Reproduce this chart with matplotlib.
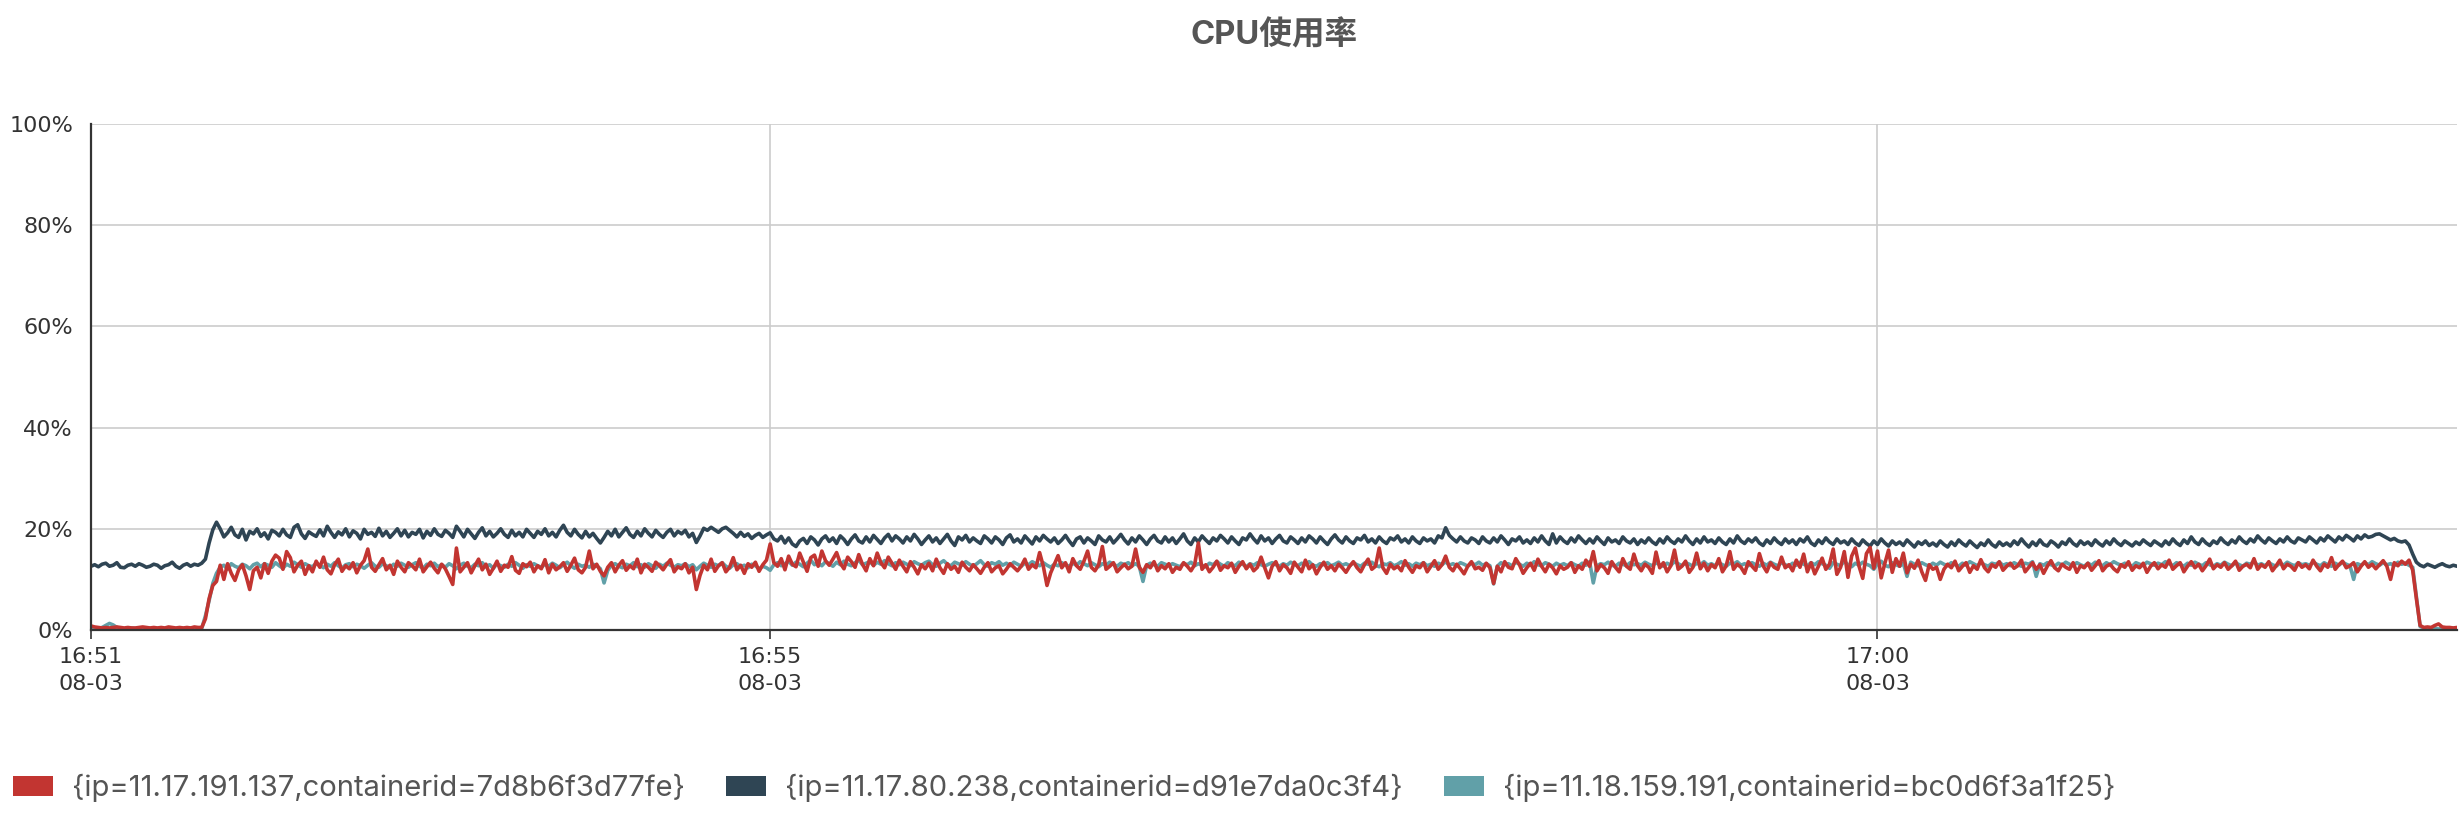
import matplotlib
matplotlib.use("Agg")
import matplotlib.pyplot as plt
from matplotlib.patches import Patch
import numpy as np
import pandas as pd

# ---------------- data ----------------
title = "CPU使用率"
start_time = "2023-08-03 16:51:56"
end_time = "2023-08-03 17:02:37"
series_names = [
    "{ip=11.17.191.137,containerid=7d8b6f3d77fe}",
    "{ip=11.17.80.238,containerid=d91e7da0c3f4}",
    "{ip=11.18.159.191,containerid=bc0d6f3a1f25}",
]
series_colors = ["#c23531", "#2f4554", "#61a0a8"]
x_ticks = ["2023-08-03 16:51:56", "2023-08-03 16:55:00", "2023-08-03 17:00:00"]
x_tick_labels = ["16:51\n08-03", "16:55\n08-03", "17:00\n08-03"]
y_ticks = [0, 20, 40, 60, 80, 100]
y_tick_labels = ["0%", "20%", "40%", "60%", "80%", "100%"]

# CPU usage in tenths of a percent, one sample per second
cpu_red_x10 = [
    8, 6, 5, 4, 5, 4, 5, 6, 5, 4, 5, 4, 4, 5, 6, 5, 4, 5, 4, 5,
    4, 6, 5, 4, 5, 4, 5, 4, 6, 5, 5, 22, 62, 88, 96, 128, 100, 131, 112, 98,
    119, 129, 107, 80, 117, 124, 103, 131, 112, 136, 148, 142, 120, 155, 143, 115, 128, 136, 110, 127,
    115, 136, 124, 144, 119, 111, 129, 140, 116, 127, 121, 133, 113, 128, 137, 160, 124, 116, 129, 141,
    119, 128, 110, 136, 124, 115, 133, 127, 119, 140, 115, 125, 134, 122, 113, 130, 121, 106, 90, 162,
    115, 124, 133, 113, 127, 140, 119, 130, 110, 122, 136, 116, 128, 124, 145, 118, 112, 131, 125, 134,
    115, 127, 121, 139, 113, 130, 119, 125, 133, 116, 128, 142, 119, 113, 124, 156, 121, 130, 116, 107,
    124, 133, 115, 128, 137, 118, 127, 121, 140, 113, 130, 124, 116, 134, 127, 119, 130, 139, 115, 125,
    121, 131, 113, 124, 80, 108, 128, 119, 140, 116, 127, 133, 115, 124, 143, 119, 128, 112, 131, 124,
    134, 116, 129, 138, 170, 133, 126, 141, 119, 146, 130, 125, 152, 134, 116, 143, 148, 126, 156, 137,
    128, 140, 153, 132, 121, 144, 135, 124, 149, 130, 117, 141, 127, 152, 133, 123, 144, 132, 120, 138,
    126, 115, 135, 124, 111, 129, 121, 132, 117, 140, 123, 112, 131, 120, 126, 114, 134, 124, 117, 129,
    121, 112, 124, 133, 115, 123, 127, 111, 120, 131, 124, 117, 126, 140, 120, 129, 123, 153, 126, 88,
    113, 130, 147, 123, 133, 115, 141, 127, 120, 136, 156, 124, 117, 129, 165, 120, 126, 133, 115, 123,
    130, 121, 126, 160, 124, 114, 129, 123, 135, 117, 127, 121, 131, 114, 124, 120, 133, 126, 117, 129,
    172, 120, 129, 115, 124, 136, 118, 127, 123, 132, 114, 126, 135, 121, 130, 117, 124, 144, 123, 103,
    126, 135, 117, 129, 123, 112, 134, 124, 115, 138, 121, 129, 111, 124, 134, 120, 127, 117, 130, 123,
    114, 126, 135, 123, 115, 129, 140, 120, 126, 162, 123, 112, 130, 121, 126, 117, 137, 124, 114, 127,
    123, 133, 115, 126, 137, 120, 129, 146, 124, 117, 130, 121, 111, 126, 135, 121, 124, 118, 132, 123,
    92, 126, 115, 135, 124, 121, 141, 129, 112, 123, 132, 118, 140, 126, 115, 130, 123, 111, 127, 120,
    124, 133, 114, 127, 120, 138, 126, 155, 117, 129, 123, 112, 135, 124, 115, 141, 126, 120, 150, 127,
    117, 130, 124, 112, 154, 123, 133, 115, 127, 158, 120, 126, 136, 114, 124, 152, 121, 132, 117, 129,
    123, 141, 115, 127, 155, 120, 130, 124, 112, 135, 126, 118, 151, 127, 115, 133, 124, 120, 144, 123,
    129, 117, 138, 124, 150, 115, 133, 111, 126, 142, 120, 130, 160, 110, 124, 155, 104, 146, 162, 126,
    102, 151, 163, 122, 156, 103, 132, 158, 114, 141, 126, 152, 113, 130, 122, 138, 115, 98, 129, 120,
    124, 100, 120, 130, 123, 136, 117, 126, 133, 114, 127, 120, 139, 123, 115, 129, 124, 135, 118, 126,
    132, 122, 127, 138, 115, 124, 133, 120, 129, 112, 126, 137, 123, 117, 130, 124, 120, 133, 114, 127,
    123, 132, 118, 127, 137, 117, 126, 130, 121, 115, 129, 124, 135, 118, 127, 123, 132, 114, 126, 133,
    121, 129, 124, 138, 120, 127, 133, 115, 126, 135, 123, 130, 117, 127, 140, 121, 129, 124, 133, 120,
    127, 136, 118, 126, 130, 123, 141, 120, 129, 124, 135, 117, 127, 138, 121, 130, 126, 118, 133, 124,
    129, 121, 138, 126, 117, 130, 124, 143, 120, 129, 136, 123, 127, 133, 115, 126, 135, 124, 130, 121,
    129, 137, 126, 100, 133, 127, 136, 130, 138, 118, 62, 9, 5, 6, 5, 9, 12, 6, 5, 5,
    4, 5,
]

cpu_dark_x10 = [
    126, 129, 125, 130, 132, 126, 128, 133, 124, 123, 128, 130, 126, 131, 128, 124, 126, 130, 128, 122,
    127, 129, 134, 126, 122, 128, 131, 126, 130, 128, 132, 140, 172, 198, 213, 200, 184, 192, 203, 188,
    183, 199, 178, 195, 190, 200, 185, 192, 180, 197, 193, 186, 199, 188, 183, 203, 208, 190, 181, 194,
    189, 185, 198, 186, 205, 193, 183, 194, 188, 200, 184, 196, 191, 180, 199, 189, 193, 185, 201, 186,
    195, 183, 191, 200, 186, 197, 184, 193, 189, 199, 182, 195, 187, 200, 189, 185, 197, 191, 183, 205,
    195, 184, 199, 190, 181, 193, 202, 186, 195, 184, 191, 200, 189, 183, 197, 186, 193, 184, 199, 191,
    183, 195, 189, 200, 186, 193, 184, 197, 207, 193, 186, 199, 189, 182, 195, 184, 191, 181, 172, 183,
    195, 186, 199, 184, 193, 202, 189, 183, 195, 186, 200, 191, 184, 197, 189, 183, 193, 199, 186, 195,
    190, 197, 184, 191, 173, 186, 201, 197, 203, 198, 193, 200, 203, 197, 191, 184, 193, 185, 190, 181,
    187, 191, 183, 188, 192, 180, 176, 185, 172, 182, 170, 165, 176, 181, 171, 184, 178, 168, 180, 186,
    175, 182, 171, 186, 179, 169, 180, 188, 176, 172, 184, 174, 187, 179, 171, 182, 189, 176, 186, 180,
    172, 184, 176, 189, 180, 169, 178, 186, 174, 182, 171, 180, 189, 176, 167, 184, 178, 187, 174, 182,
    176, 171, 186, 180, 172, 184, 178, 169, 182, 188, 174, 180, 172, 186, 178, 170, 184, 176, 187, 180,
    174, 182, 171, 178, 187, 176, 167, 180, 184, 172, 182, 176, 169, 186, 178, 174, 184, 172, 180, 189,
    178, 170, 182, 174, 186, 178, 169, 180, 187, 176, 172, 184, 174, 182, 171, 180, 190, 176, 169, 182,
    174, 186, 178, 171, 182, 176, 187, 180, 172, 184, 176, 169, 182, 178, 190, 180, 172, 186, 176, 182,
    171, 180, 187, 176, 172, 184, 178, 171, 182, 174, 186, 180, 172, 184, 176, 169, 180, 188, 178, 172,
    184, 176, 171, 182, 178, 187, 174, 180, 172, 184, 176, 171, 182, 178, 186, 174, 180, 172, 184, 176,
    171, 182, 176, 180, 172, 186, 182, 202, 187, 180, 174, 184, 176, 172, 182, 178, 171, 184, 176, 172,
    182, 174, 186, 178, 169, 180, 176, 184, 172, 178, 171, 182, 174, 186, 176, 169, 190, 172, 184, 176,
    171, 182, 174, 186, 178, 171, 180, 172, 184, 176, 169, 182, 174, 178, 171, 184, 176, 172, 180, 169,
    178, 172, 182, 174, 169, 180, 172, 184, 176, 171, 180, 174, 186, 176, 169, 180, 172, 184, 174, 178,
    171, 182, 174, 169, 180, 172, 186, 176, 171, 180, 174, 182, 172, 167, 178, 171, 182, 174, 169, 180,
    172, 178, 169, 180, 174, 184, 172, 167, 178, 171, 182, 174, 169, 180, 172, 176, 169, 180, 172, 167,
    178, 171, 166, 176, 169, 180, 172, 166, 176, 169, 174, 167, 178, 171, 164, 174, 169, 176, 167, 172,
    166, 176, 169, 164, 174, 167, 178, 171, 166, 176, 169, 163, 172, 167, 178, 169, 164, 174, 167, 172,
    166, 176, 169, 180, 171, 164, 174, 167, 178, 169, 166, 176, 171, 164, 174, 169, 180, 171, 166, 176,
    169, 174, 167, 178, 171, 166, 176, 169, 180, 172, 167, 176, 171, 166, 174, 169, 178, 172, 167, 176,
    171, 166, 176, 169, 180, 172, 167, 178, 171, 184, 174, 169, 180, 172, 167, 176, 171, 182, 174, 169,
    178, 172, 184, 176, 171, 180, 174, 186, 178, 172, 182, 176, 171, 180, 174, 184, 176, 172, 182, 178,
    174, 184, 178, 172, 182, 176, 186, 180, 174, 184, 178, 187, 182, 176, 186, 180, 188, 183, 185, 189,
    190, 186, 182, 178, 181, 176, 174, 176, 168, 150, 134, 128, 125, 130, 127, 124, 128, 131, 127, 125,
    128, 126,
]

cpu_teal_x10 = [
    3, 4, 3, 5, 9, 13, 10, 5, 3, 2, 3, 4, 3, 2, 3, 4, 3, 2, 3, 4,
    3, 4, 3, 2, 4, 3, 3, 4, 3, 2, 3, 28, 58, 92, 112, 124, 128, 120, 131, 126,
    123, 130, 127, 121, 129, 132, 125, 131, 128, 124, 133, 127, 122, 130, 126, 134, 129, 124, 131, 127,
    125, 132, 128, 123, 130, 126, 133, 127, 122, 129, 131, 125, 130, 127, 122, 128, 133, 126, 124, 131,
    127, 123, 130, 126, 132, 128, 124, 129, 133, 126, 122, 130, 127, 132, 125, 129, 124, 131, 127, 121,
    128, 132, 126, 123, 130, 127, 133, 125, 129, 122, 131, 127, 124, 130, 126, 133, 128, 122, 129, 126,
    131, 127, 124, 130, 126, 132, 128, 123, 129, 134, 127, 122, 130, 126, 128, 124, 130, 127, 121, 93,
    118, 128, 131, 126, 123, 130, 127, 133, 125, 129, 124, 131, 127, 122, 130, 126, 132, 128, 124, 129,
    127, 131, 125, 129, 119, 126, 132, 128, 124, 130, 127, 133, 126, 122, 129, 131, 125, 128, 123, 130,
    127, 121, 126, 123, 118, 129, 133, 127, 131, 136, 128, 134, 130, 125, 132, 138, 129, 133, 127, 135,
    131, 126, 134, 129, 136, 130, 127, 133, 138, 129, 132, 135, 128, 134, 130, 137, 131, 127, 133, 129,
    134, 130, 127, 135, 131, 128, 133, 136, 129, 126, 132, 137, 130, 127, 134, 131, 128, 135, 130, 126,
    131, 137, 129, 126, 133, 130, 135, 128, 132, 127, 134, 130, 126, 132, 129, 135, 131, 127, 133, 128,
    124, 130, 127, 133, 129, 126, 132, 128, 135, 131, 127, 133, 129, 125, 131, 128, 134, 130, 126, 132,
    129, 133, 127, 131, 126, 96, 128, 132, 129, 126, 133, 130, 127, 131, 128, 125, 132, 129, 134, 127,
    131, 128, 125, 132, 129, 135, 130, 126, 133, 129, 127, 134, 130, 125, 131, 128, 133, 129, 126, 130,
    133, 129, 126, 131, 128, 134, 130, 127, 132, 129, 135, 128, 126, 131, 129, 133, 127, 130, 134, 128,
    131, 127, 133, 129, 126, 132, 130, 134, 128, 125, 131, 129, 133, 127, 130, 135, 128, 131, 126, 132,
    129, 133, 127, 130, 126, 132, 129, 135, 128, 131, 127, 133, 130, 126, 132, 129, 134, 128, 131, 127,
    91, 126, 133, 129, 131, 127, 134, 130, 126, 132, 128, 135, 129, 127, 133, 130, 126, 132, 128, 131,
    127, 133, 129, 126, 132, 128, 135, 93, 127, 131, 129, 134, 128, 126, 132, 130, 127, 133, 129, 131,
    128, 134, 130, 127, 133, 129, 126, 132, 128, 135, 131, 127, 133, 130, 126, 132, 129, 135, 128, 131,
    127, 133, 129, 126, 132, 130, 135, 128, 131, 127, 133, 129, 126, 132, 128, 134, 130, 127, 133, 129,
    126, 132, 128, 134, 130, 127, 133, 129, 135, 131, 128, 122, 133, 130, 127, 136, 129, 125, 132, 128,
    134, 130, 127, 120, 131, 136, 128, 125, 133, 129, 126, 132, 106, 134, 130, 127, 133, 129, 126, 132,
    128, 134, 130, 127, 133, 129, 126, 132, 128, 135, 131, 127, 133, 129, 126, 132, 130, 134, 128, 131,
    127, 133, 129, 126, 132, 130, 135, 106, 131, 128, 133, 129, 126, 132, 128, 134, 130, 127, 133, 129,
    126, 132, 128, 134, 130, 127, 133, 129, 135, 131, 128, 132, 129, 126, 133, 130, 127, 134, 131, 128,
    132, 129, 135, 131, 127, 133, 130, 126, 132, 128, 134, 130, 127, 133, 129, 126, 131, 128, 134, 130,
    127, 133, 129, 126, 132, 130, 135, 128, 131, 127, 133, 129, 126, 132, 128, 134, 130, 127, 133, 129,
    131, 128, 134, 130, 127, 133, 129, 126, 132, 128, 134, 130, 127, 100, 131, 128, 133, 129, 135, 131,
    128, 133, 129, 131, 127, 134, 130, 132, 128, 124, 66, 7, 4, 3, 4, 3, 2, 3, 4, 3,
    3, 2,
]

series_values = [cpu_red_x10, cpu_dark_x10, cpu_teal_x10]

# ---------------- figure ----------------
W, H, DPI = 2460, 814, 100
fig = plt.figure(figsize=(W / DPI, H / DPI), dpi=DPI)
fig.patch.set_facecolor("white")

left_px, right_px, top_px, bottom_px = 91, 2457, 124, 630
ax = fig.add_axes([left_px / W, 1 - bottom_px / H,
                   (right_px - left_px) / W, (bottom_px - top_px) / H])

latin = ["Inter", "Noto Sans CJK SC", "DejaVu Sans"]
plt.rcParams["font.family"] = latin

# draw teal, dark, then red on top
draw_order = [2, 1, 0]
for k in draw_order:
    vals = np.asarray(series_values[k], dtype=float) / 10.0
    t = pd.date_range(start_time, periods=len(vals), freq="1s")
    ax.plot(t, vals, color=series_colors[k], lw=2.6, solid_joinstyle="round",
            solid_capstyle="round", zorder=3 + (2 - k) * 0.1)

ax.set_xlim(pd.Timestamp(start_time), pd.Timestamp(end_time))
ax.set_ylim(y_ticks[0], y_ticks[-1])

ax.set_yticks(y_ticks)
ax.set_yticklabels(y_tick_labels)
ax.set_xticks([pd.Timestamp(s) for s in x_ticks])
ax.set_xticklabels(x_tick_labels, linespacing=1.4)

ax.grid(True, color="#cccccc", lw=1.2, zorder=0)
ax.set_axisbelow(True)
for s in ["top", "right"]:
    ax.spines[s].set_visible(False)
for s in ["left", "bottom"]:
    ax.spines[s].set_color("#333333")
    ax.spines[s].set_linewidth(1.6)
    ax.spines[s].set_zorder(5)

ax.tick_params(axis="y", length=0, pad=13, labelsize=16, labelcolor="#333333")
ax.tick_params(axis="x", length=6.5, width=1.2, color="#333333", pad=6,
               labelsize=16, labelcolor="#333333")

# title centred over the plotting area
fig.text((left_px + right_px) / 2 / W, 1 - 36 / H, title, ha="center", va="center",
         fontsize=23.5, fontweight="bold", color="#555555", family=latin)

handles = [Patch(facecolor=c, edgecolor="none") for c in series_colors]
fs = 21
fig.legend(handles, series_names, loc="center left",
           bbox_to_anchor=(13 / W, 1 - 788 / H), ncol=3, frameon=False,
           fontsize=fs, labelcolor="#555555", borderpad=0, borderaxespad=0,
           handlelength=40 / (fs * DPI / 72), handleheight=20 / (fs * DPI / 72),
           handletextpad=19 / (fs * DPI / 72), columnspacing=41 / (fs * DPI / 72))

fig.savefig("out.png", dpi=DPI, facecolor="white")
